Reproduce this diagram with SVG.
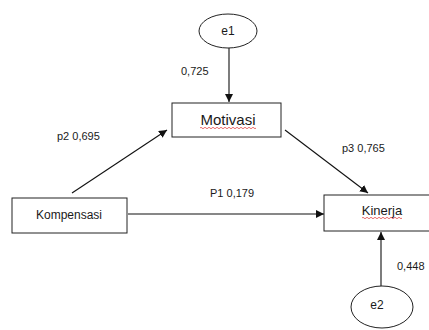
<svg xmlns="http://www.w3.org/2000/svg" width="429" height="330" viewBox="0 0 429 330">
<style>
.box{fill:#fff;stroke:#222;stroke-width:1}
.ell{fill:#fff;stroke:#222;stroke-width:1}
.t{font-family:"Liberation Sans",Arial,sans-serif;fill:#1a1a1a}
.c{stroke:#111;stroke-width:1.1;fill:none;marker-end:url(#ah)}
.sq{stroke:#e03030;stroke-width:0.7;fill:none}
</style>
<defs>
<marker id="ah" viewBox="0 0 10 10" refX="10" refY="5" markerWidth="8" markerHeight="8" markerUnits="userSpaceOnUse" orient="auto">
<path d="M0,0 L10,5 L0,10 z" fill="#111"/>
</marker>
</defs>
<rect width="429" height="330" fill="#fff"/>
<g id="connectors">
<line class="c" x1="229" y1="48" x2="229" y2="102"/>
<line class="c" x1="72" y1="193" x2="167" y2="130"/>
<line class="c" x1="285" y1="130" x2="368" y2="193"/>
<line class="c" x1="128" y1="214" x2="324" y2="214"/>
<line class="c" x1="381" y1="286" x2="381" y2="232"/>
<text class="t" x="181" y="75" font-size="11">0,725</text>
<text class="t" x="57" y="140" font-size="11">p2 0,695</text>
<text class="t" x="342" y="152" font-size="11">p3 0,765</text>
<text class="t" x="210" y="197" font-size="11">P1 0,179</text>
<text class="t" x="397" y="270" font-size="11">0,448</text>
</g>
<g id="e1">
<ellipse class="ell" cx="228" cy="31" rx="29" ry="17"/>
<text class="t" x="228" y="35" font-size="12" text-anchor="middle">e1</text>
</g>
<g id="motivasi">
<rect class="box" x="172" y="103" width="109" height="34"/>
<text class="t" x="228" y="125" font-size="15" text-anchor="middle">Motivasi</text>
<path class="sq" d="M200,128 q1,-1.5 2,0 t2,0 t2,0 t2,0 t2,0 t2,0 t2,0 t2,0 t2,0 t2,0 t2,0 t2,0 t2,0 t2,0 t2,0 t2,0 t2,0 t2,0 t2,0 t2,0 t2,0 t2,0 t2,0 t2,0 t2,0 t2,0 t2,0 t2,0"/>
</g>
<g id="kompensasi">
<rect class="box" x="12" y="198" width="115" height="35"/>
<text class="t" x="69" y="219" font-size="12" text-anchor="middle">Kompensasi</text>
</g>
<g id="kinerja">
<rect class="box" x="324" y="195" width="110" height="36"/>
<text class="t" x="382" y="215" font-size="13" text-anchor="middle">Kinerja</text>
<path class="sq" d="M362,218 q1,-1.5 2,0 t2,0 t2,0 t2,0 t2,0 t2,0 t2,0 t2,0 t2,0 t2,0 t2,0 t2,0 t2,0 t2,0 t2,0 t2,0 t2,0 t2,0 t2,0 t2,0"/>
</g>
<g id="e2">
<ellipse class="ell" cx="382" cy="307" rx="31" ry="21"/>
<text class="t" x="377" y="309" font-size="12" text-anchor="middle">e2</text>
</g>
</svg>
